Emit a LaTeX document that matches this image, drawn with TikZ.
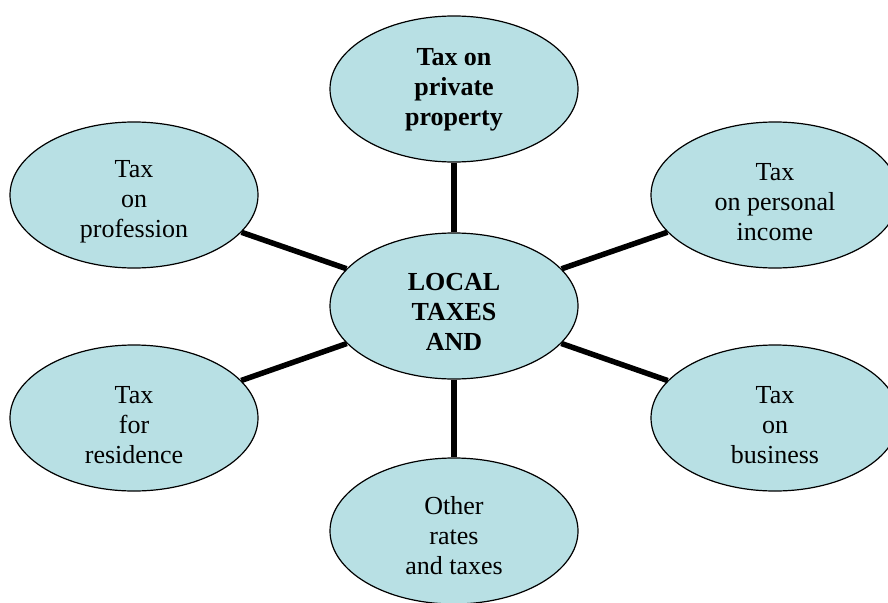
\documentclass[tikz,border=0pt]{standalone}
\usepackage{fontspec}
\setmainfont{Liberation Serif}
\usetikzlibrary{shapes.geometric}
\definecolor{bubble}{RGB}{184,224,228}
\tikzset{
  bubble/.style={ellipse, draw=black, line width=1.2pt, fill=bubble,
    minimum width=248pt, minimum height=146pt, inner sep=0pt},
  txt/.style={align=center, inner sep=0pt, font=\fontsize{26}{30}\selectfont},
  boldtxt/.style={txt, font=\fontsize{26}{30}\selectfont\bfseries},
  spoke/.style={line width=5.5pt, black}
}
\begin{document}
\begin{tikzpicture}[x=1pt,y=-1pt]
\useasboundingbox (0,0) rectangle (888,602);
\node[bubble] (top) at (454,89) {};
\node[bubble] (tl) at (134,195) {};
\node[bubble] (tr) at (775,195) {};
\node[bubble] (c) at (454,306) {};
\node[bubble] (bl) at (134,418) {};
\node[bubble] (br) at (775,418) {};
\node[bubble] (bot) at (454,531) {};
\node[boldtxt] (topt) at (454,90) {Tax on\\private\\property};
\node[txt] (tlt) at (134,202) {Tax\\on\\profession};
\node[txt] (trt) at (775,202) {Tax\\on personal\\income};
\node[boldtxt] (ct) at (454,312) {LOCAL\\TAXES\\AND};
\node[txt] (blt) at (134,425) {Tax\\for\\residence};
\node[txt] (brt) at (775,425) {Tax\\on\\business};
\node[txt] (bott) at (454,536) {Other\\rates\\and taxes};
\draw[spoke] (c) -- (top);
\draw[spoke] (c) -- (bot);
\draw[spoke] (c) -- (tl);
\draw[spoke] (c) -- (tr);
\draw[spoke] (c) -- (bl);
\draw[spoke] (c) -- (br);
\end{tikzpicture}
\end{document}
